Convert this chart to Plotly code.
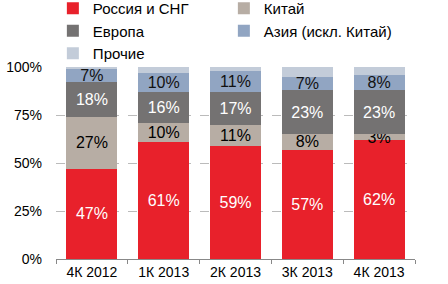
import plotly.graph_objects as go

categories = ["4К 2012", "1К 2013", "2К 2013", "3К 2013", "4К 2013"]
russia = [47, 61, 59, 57, 62]
china = [27, 10, 11, 8, 3]
europe = [18, 16, 17, 23, 23]
asia = [7, 10, 11, 7, 8]
others = [1, 3, 2, 5, 4]

series = [
    ("Россия и СНГ", russia, "#E8212B", "white", True),
    ("Китай", china, "#B7ADA4", "black", True),
    ("Европа", europe, "#747272", "white", True),
    ("Азия (искл. Китай)", asia, "#91A5C2", "#111111", True),
    ("Прочие", others, "#C3CCD9", "black", False),
]

fig = go.Figure()
for name, vals, color, tcolor, show in series:
    fig.add_trace(go.Bar(
        x=categories, y=vals, name=name,
        marker=dict(color=color, line=dict(width=0)),
        text=[f"{v}%" for v in vals] if show else None,
        textposition="inside" if show else "none",
        insidetextanchor="middle",
        textangle=0,
        textfont=dict(color=tcolor, size=16, family="Liberation Sans, Arial"),
        hoverinfo="skip",
    ))

fig.update_layout(
    barmode="stack",
    bargap=0.29,
    width=448, height=284,
    margin=dict(l=56, r=33, t=67, b=25, autoexpand=False),
    paper_bgcolor="white", plot_bgcolor="white",
    font=dict(family="Liberation Sans, Arial", size=13, color="black"),
    uniformtext=dict(mode="show", minsize=16),
    legend=dict(
        orientation="h", x=0.118, y=1.39, xref="container", yref="paper",
        xanchor="left", yanchor="top",
        entrywidth=126, itemwidth=30, traceorder="normal",
        font=dict(size=15), tracegroupgap=0,
        bgcolor="rgba(0,0,0,0)",
    ),
    showlegend=True,
)
fig.update_xaxes(
    showline=True, linecolor="#888888", linewidth=1,
    ticks="outside", tickson="boundaries", ticklen=4, tickcolor="#888888",
    tickfont=dict(size=14), showgrid=False,
)
fig.update_yaxes(
    range=[0, 100], tickvals=[0, 25, 50, 75, 100],
    ticktext=["0%", "25%", "50%", "75%", "100%"],
    showgrid=True, gridcolor="#BBBBBB", griddash="dash", gridwidth=1,
    zeroline=False, showline=False, ticks="", tickfont=dict(size=14),
    ticklabelstandoff=13,
)
fig.write_html("out.html")
